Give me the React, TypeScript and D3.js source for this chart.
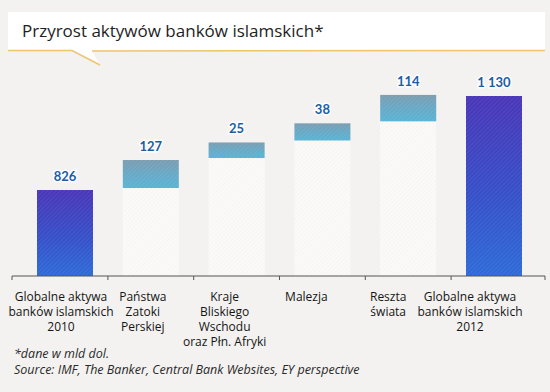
import * as d3 from "d3";

const WIDTH = 550;
const HEIGHT = 392;

const title = "Przyrost aktywów banków islamskich*";
const categories = ["2010", "gulf", "mena", "malaysia", "rest", "2012"];
const categoryLabels = [
  ["Globalne aktywa", "banków islamskich", "2010"],
  ["Państwa", "Zatoki", "Perskiej"],
  ["Kraje", "Bliskiego", "Wschodu", "oraz Płn. Afryki"],
  ["Malezja"],
  ["Reszta", "świata"],
  ["Globalne aktywa", "banków islamskich", "2012"],
];
const values = [826, 127, 25, 38, 114, 1130];
const valueLabels = ["826", "127", "25", "38", "114", "1 130"];
const isTotal = [true, false, false, false, false, true];
const notes = [
  "*dane w mld dol.",
  "Source: IMF, The Banker, Central Bank Websites, EY perspective",
];

// the original graphic cuts the value axis, totals start from this value
const AXIS_FLOOR = 548;

const AXIS_Y = 276;
const BAR_W = 56;
const STEP_GAP = 2;

export default function App() {
  const x = d3.scalePoint<string>().domain(categories).range([65, 494]);
  const y = d3.scaleLinear().domain([AXIS_FLOOR, 1130]).range([AXIS_Y, 96]);
  // increments are drawn stylised (minimum height + linear part), like the original
  const stepH = d3
    .scaleLinear()
    .domain([0, d3.max(values.filter((_, i) => !isTotal[i])) as number])
    .range([12.5, 28]);
  const labelX = d3.scalePoint<string>().domain(categories).range([61, 470]);

  let cursor = 0;
  const bars = values.map((v, i) => {
    if (isTotal[i]) {
      const top = y(v);
      cursor = top;
      return { top, bottom: AXIS_Y };
    }
    const bottom = cursor - STEP_GAP;
    const top = bottom - stepH(v);
    cursor = top;
    return { top, bottom };
  });

  const centers = categories.map((c) => x(c) as number);
  const ticks = [12, ...d3.pairs(centers).map(([a, b]) => (a + b) / 2), 545];

  return (
    <svg
      width={WIDTH}
      height={HEIGHT}
      style={{ position: "absolute", left: 0, top: 0 }}
    >
      <defs>
        <linearGradient id="totalGrad" x1="0" y1="0" x2="0" y2="1">
          <stop offset="0%" stopColor="#4a36b8" />
          <stop offset="55%" stopColor="#3650c8" />
          <stop offset="100%" stopColor="#2e6bd8" />
        </linearGradient>
        <linearGradient id="floatGrad" x1="0" y1="0" x2="0" y2="1">
          <stop offset="0%" stopColor="#7b9db1" />
          <stop offset="50%" stopColor="#68a9c6" />
          <stop offset="100%" stopColor="#59b4d4" />
        </linearGradient>
        <pattern
          id="hatch"
          width="3"
          height="3"
          patternUnits="userSpaceOnUse"
          patternTransform="rotate(45)"
        >
          <line x1="0" y1="0" x2="0" y2="3" stroke="#fff" strokeWidth="1" strokeOpacity="0.13" />
        </pattern>
        <pattern
          id="hatchLight"
          width="3"
          height="3"
          patternUnits="userSpaceOnUse"
          patternTransform="rotate(45)"
        >
          <line x1="0" y1="0" x2="0" y2="3" stroke="#ddd" strokeWidth="1" strokeOpacity="0.35" />
        </pattern>
      </defs>

      <rect width={WIDTH} height={HEIGHT} fill="#f3f2f0" />

      {/* title box */}
      <rect x={8} y={12} width={537} height={39} fill="#fff" />
      <path d="M72,51 L100,65 L92,51 Z" fill="#fff" />
      <path
        d="M8,50.5 L72,50.5 L100,65 M92,51 L545,50.5"
        fill="none"
        stroke="#eec46c"
        strokeWidth={1.5}
      />
      <text x={22} y={37} fontFamily="'Open Sans', sans-serif" fontSize={17} fill="#1e1e1e">
        {title}
      </text>

      {/* bars */}
      {categories.map((c, i) => {
        const { top, bottom } = bars[i];
        const bx = (x(c) as number) - BAR_W / 2;
        return (
          <g key={c}>
            {!isTotal[i] && (
              <>
                <rect x={bx} y={bottom} width={BAR_W} height={AXIS_Y - bottom} fill="#fbfbfa" fillOpacity={0.85} />
                <rect x={bx} y={bottom} width={BAR_W} height={AXIS_Y - bottom} fill="url(#hatchLight)" />
              </>
            )}
            <rect
              x={bx}
              y={top}
              width={BAR_W}
              height={bottom - top}
              fill={isTotal[i] ? "url(#totalGrad)" : "url(#floatGrad)"}
            />
            <rect x={bx} y={top} width={BAR_W} height={bottom - top} fill="url(#hatch)" />
            <text
              x={x(c)}
              y={top - 9}
              textAnchor="middle"
              fontFamily="Lato, sans-serif"
              fontWeight="bold"
              fontSize={13}
              fill="#1a5da8"
              stroke="#fff"
              strokeWidth={3}
              strokeOpacity={0.9}
              paintOrder="stroke"
            >
              {valueLabels[i]}
            </text>
          </g>
        );
      })}

      {/* axis */}
      <line x1={12} x2={545} y1={AXIS_Y} y2={AXIS_Y} stroke="#555" strokeWidth={1} />
      {ticks.map((t, i) => (
        <line key={i} x1={t} x2={t} y1={AXIS_Y} y2={AXIS_Y + 4} stroke="#555" strokeWidth={1} />
      ))}

      {/* category labels */}
      {categories.map((c, i) => (
        <text
          key={c}
          x={labelX(c)}
          y={301}
          textAnchor="middle"
          fontFamily="'Open Sans', sans-serif"
          fontSize={12}
          fill="#151515"
        >
          {categoryLabels[i].map((line, j) => (
            <tspan key={j} x={labelX(c)} dy={j === 0 ? 0 : 15}>
              {line}
            </tspan>
          ))}
        </text>
      ))}

      {/* notes */}
      {notes.map((n, i) => (
        <text
          key={i}
          x={14}
          y={358 + i * 16}
          fontFamily="'Open Sans', sans-serif"
          fontStyle="italic"
          fontSize={12.5}
          fill="#2a2a2a"
        >
          {n}
        </text>
      ))}
    </svg>
  );
}
